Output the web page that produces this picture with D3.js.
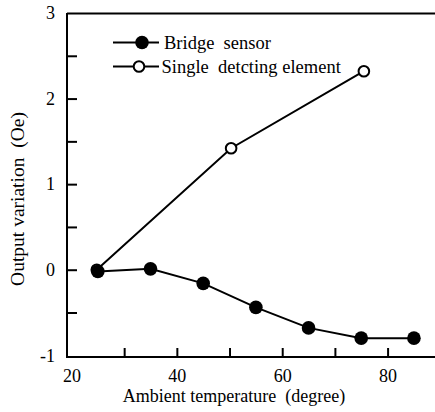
<!DOCTYPE html>
<html>
<head>
<meta charset="utf-8">
<script src="https://cdn.jsdelivr.net/npm/d3@7"></script>
<style>
  html, body { margin: 0; padding: 0; background: #fff; }
  svg, svg text { font-family: "Liberation Serif", "Times New Roman", Times, "DejaVu Serif", serif !important; }
</style>
</head>
<body>
<svg id="chart" width="435" height="412"></svg>
<script>
// Temperature (degree) at which each sample was taken
const bridgeTemps = [25, 35, 45, 55, 65, 75, 85];
// Output variation (Oe) of the bridge sensor
const bridgeValues = [-0.02, 0.01, -0.16, -0.44, -0.68, -0.80, -0.80];
// Single detecting element samples
const singleTemps = [24.8, 50.3, 75.5];
const singleValues = [0.0, 1.42, 2.32];

const seriesNames = ["Bridge  sensor", "Single  detcting element"];
const xTickValues = [20, 30, 40, 50, 60, 70, 80];
const xTickLabels = [20, 40, 60, 80];
const yTickValues = [-1, -0.5, 0, 0.5, 1, 1.5, 2, 2.5, 3];
const yTickLabels = [-1, 0, 1, 2, 3];

const serif = "'Liberation Serif', 'Times New Roman', Times, 'DejaVu Serif', serif";
const svg = d3.select("#chart").attr("font-family", serif);
const plotL = 67, plotR = 435, plotT = 13, plotB = 357;

const x = d3.scaleLinear().domain([19.15, 89]).range([plotL, plotR]);
const y = d3.scaleLinear().domain([-1.02, 3]).range([plotB, plotT]);

// frame: left axis, bottom axis, top rule
const frame = svg.append("g").attr("stroke", "#000").attr("stroke-width", 2).attr("fill", "none");
frame.append("path").attr("d", `M${plotL},${plotT}V${plotB}H${plotR}`);
frame.append("path").attr("d", `M${plotL},${plotT + 0.5}H${plotR}`);

// x axis ticks (inward)
const xAxis = d3.axisBottom(x)
  .tickValues(xTickValues)
  .tickSizeInner(-9).tickSizeOuter(0).tickPadding(12)
  .tickFormat(d => xTickLabels.includes(d) ? d : "");
const gx = svg.append("g").attr("transform", `translate(0,${plotB})`).call(xAxis)
  .attr("font-family", serif).attr("font-size", 18);
gx.select(".domain").remove();
gx.selectAll(".tick line").attr("stroke", "#000").attr("stroke-width", 2)
  .attr("display", d => d === 20 ? "none" : null);
gx.selectAll(".tick text").attr("fill", "#000");

// y axis ticks (inward)
const yAxis = d3.axisLeft(y)
  .tickValues(yTickValues)
  .tickSizeInner(-10).tickSizeOuter(0).tickPadding(12)
  .tickFormat(d => yTickLabels.includes(d) ? d : "");
const gy = svg.append("g").attr("transform", `translate(${plotL},0)`).call(yAxis)
  .attr("font-family", serif).attr("font-size", 18);
gy.select(".domain").remove();
gy.selectAll(".tick line").attr("stroke", "#000").attr("stroke-width", 2)
  .attr("display", d => (d === -1 || d === 3) ? "none" : null);
gy.selectAll(".tick text").attr("fill", "#000");

// axis titles
svg.append("text")
  .attr("x", 234).attr("y", 402)
  .attr("text-anchor", "middle").attr("font-size", 18)
  .style("white-space", "pre")
  .text("Ambient temperature  (degree)");
svg.append("text")
  .attr("transform", "translate(24,199) rotate(-90)")
  .attr("text-anchor", "middle").attr("font-size", 19.5)
  .style("white-space", "pre")
  .text("Output variation  (Oe)");

const line = d3.line().x(d => x(d[0])).y(d => y(d[1]));

// single detecting element (drawn first, beneath the bridge markers)
const singleData = singleTemps.map((t, i) => [t, singleValues[i]]);
svg.append("path").datum(singleData)
  .attr("d", line).attr("fill", "none").attr("stroke", "#000").attr("stroke-width", 2);
svg.selectAll(".single").data(singleData).enter().append("circle")
  .attr("cx", d => x(d[0])).attr("cy", d => y(d[1])).attr("r", 5.3)
  .attr("fill", "#fff").attr("stroke", "#000").attr("stroke-width", 2);

// bridge sensor
const bridgeData = bridgeTemps.map((t, i) => [t, bridgeValues[i]]);
svg.append("path").datum(bridgeData)
  .attr("d", line).attr("fill", "none").attr("stroke", "#000").attr("stroke-width", 2);
svg.selectAll(".bridge").data(bridgeData).enter().append("circle")
  .attr("cx", d => x(d[0])).attr("cy", d => y(d[1])).attr("r", 6.8)
  .attr("fill", "#000");

// legend
const legend = svg.append("g");
const rows = [
  { name: seriesNames[0], cy: 42.5, filled: true, cx: 142 },
  { name: seriesNames[1], cy: 66.5, filled: false, cx: 139 }
];
rows.forEach(r => {
  legend.append("line").attr("x1", 113).attr("x2", 159).attr("y1", r.cy).attr("y2", r.cy)
    .attr("stroke", "#000").attr("stroke-width", 2);
  if (r.filled) {
    legend.append("circle").attr("cx", r.cx).attr("cy", r.cy).attr("r", 6.8).attr("fill", "#000");
  } else {
    legend.append("circle").attr("cx", r.cx).attr("cy", r.cy).attr("r", 5.3)
      .attr("fill", "#fff").attr("stroke", "#000").attr("stroke-width", 2);
  }
  legend.append("text").attr("x", r.filled ? 164 : 161.5).attr("y", r.cy + 6)
    .attr("font-size", 18.5).style("white-space", "pre").text(r.name);
});
</script>
</body>
</html>
